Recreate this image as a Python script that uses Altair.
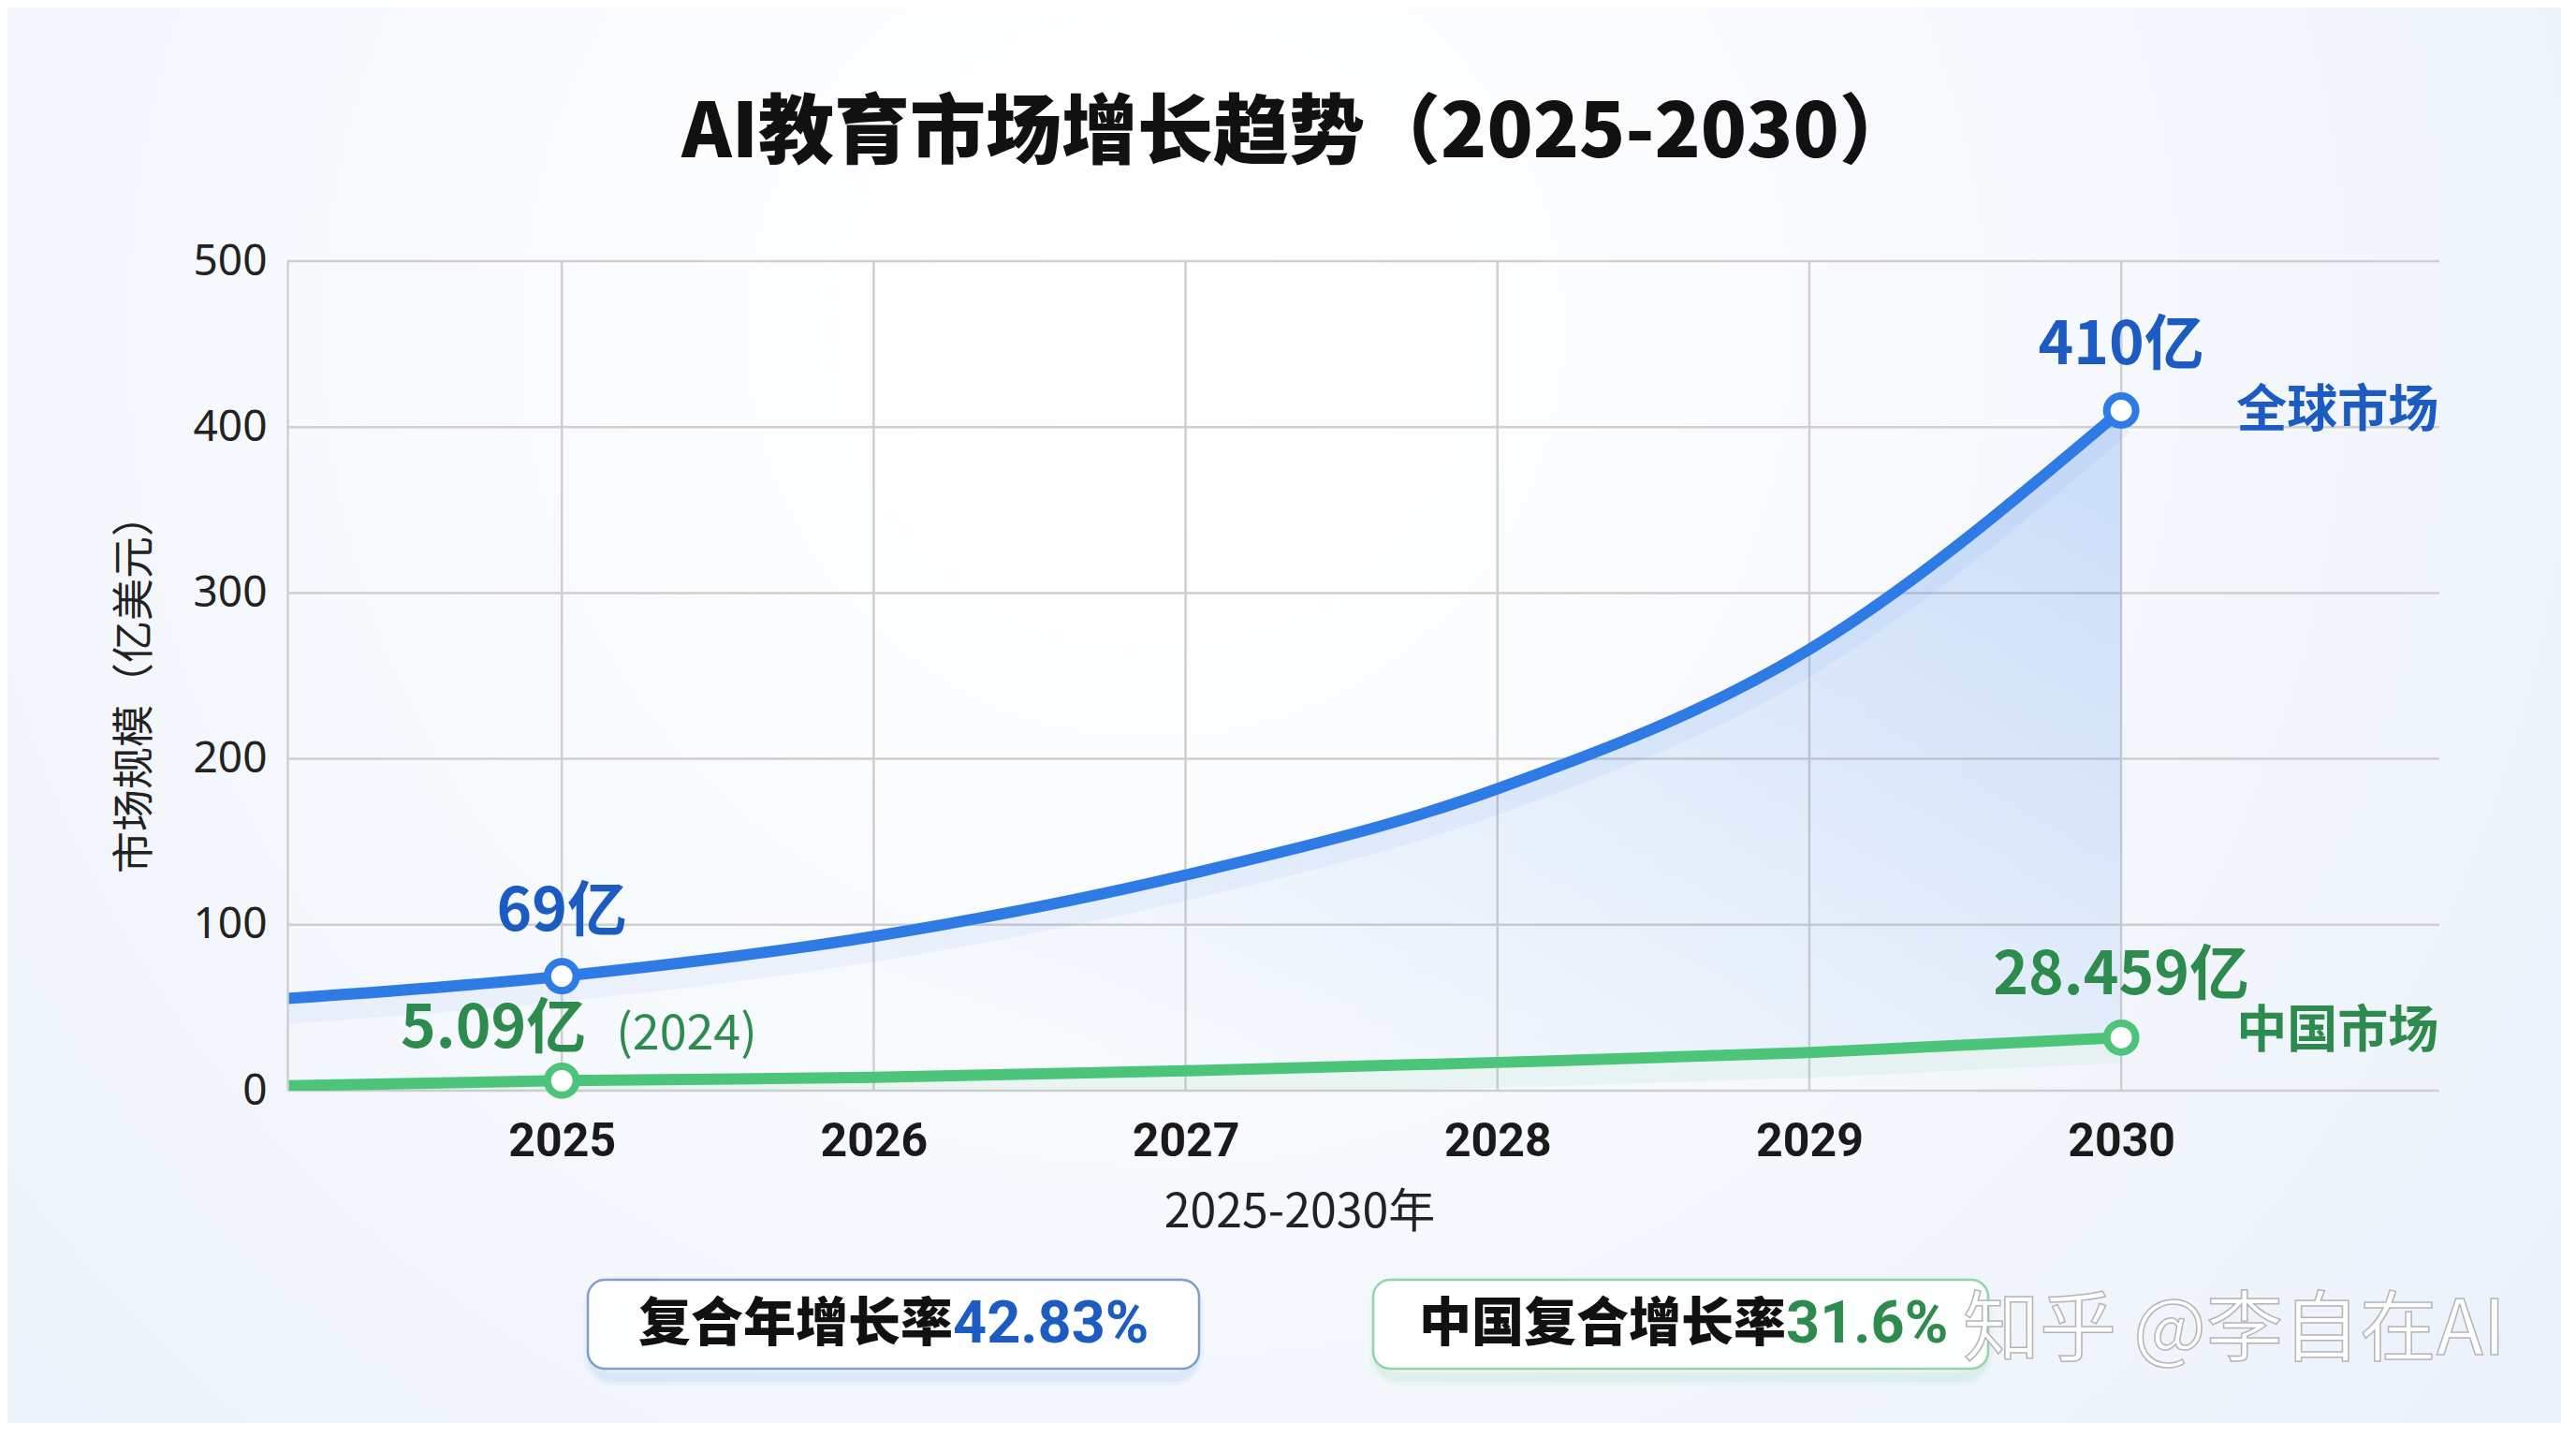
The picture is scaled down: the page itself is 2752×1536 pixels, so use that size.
import altair as alt
import pandas as pd

# values
years = [2024, 2025, 2026, 2027, 2028, 2029, 2030]
global_vals = [54, 69, 93, 130, 182, 266, 410]
china_vals = [2.5, 6, 8, 12, 17, 23, 32]
mark_years = [2025, 2030]
global_labels = ["69亿", "410亿"]
china_labels = ["5.09亿", "28.459亿"]
yticks = [0, 100, 200, 300, 400, 500]
xticks = [2025, 2026, 2027, 2028, 2029, 2030]

W, H = 2299, 886
PAD = {"left": 299, "top": 271, "right": 130, "bottom": 355}

BLUE = "#2f7be6"
BLUE_TXT = "#1c5cc2"
GREEN = "#4cc47a"
GREEN_TXT = "#2e8b4e"
GRID = "#cfcfcf"
CJK = "Noto Sans CJK SC"

df = pd.DataFrame({"year": years, "global": global_vals, "china": china_vals})
pts = df[df["year"].isin(mark_years)].copy()
pts["glabel"] = global_labels
pts["clabel"] = china_labels

xscale = alt.Scale(domain=[2024.12, 2031.02], nice=False, zero=False)
yscale = alt.Scale(domain=[0, 500], nice=False)

X = alt.X("year:Q", scale=xscale, axis=alt.Axis(
    values=xticks, format="d", grid=False, ticks=False, domain=False, zindex=1,
    labelFont="Roboto", labelFontSize=50, labelFontWeight="bold", labelColor="#1a1a1a",
    labelPadding=29, title="2025-2030年", titleFont=CJK, titleFontSize=50,
    titleFontWeight="normal", titleColor="#222222", titleX=1081, titleY=130,
    titleBaseline="middle"))
Y = alt.Y("global:Q", scale=yscale, axis=alt.Axis(
    values=yticks, grid=False, ticks=False, domain=True, domainColor=GRID,
    domainWidth=2.5, zindex=1, labelFont="Noto Sans", labelFontSize=46,
    labelColor="#222222", labelPadding=22, title="市场规模（亿美元）",
    titleFont=CJK, titleFontSize=45, titleFontWeight="normal", titleColor="#222222",
    titleX=-163, titleY=451, titleBaseline="middle"))

one = pd.DataFrame({"k": [0]})

# soft page background
bg = alt.Chart(one).mark_rect(clip=False, fill={
    "gradient": "radial", "x1": 0.45, "y1": 0.35, "r1": 0.05,
    "x2": 0.45, "y2": 0.35, "r2": 0.85,
    "stops": [{"offset": 0, "color": "#ffffff"}, {"offset": 1, "color": "#e6eef9"}],
}).encode(x=alt.value(-PAD["left"] - 8), x2=alt.value(W + PAD["right"] + 8),
          y=alt.value(-PAD["top"] - 8), y2=alt.value(H + PAD["bottom"] + 8))

title = alt.Chart(one).mark_text(
    clip=False, font=CJK, fontSize=81, fontWeight=900, color="#111111",
    align="center", baseline="alphabetic").encode(
    x=alt.value(1080), y=alt.value(-111),
    text=alt.value("AI教育市场增长趋势（2025-2030）"))

hgrid = alt.Chart(pd.DataFrame({"v": yticks})).mark_rule(
    color=GRID, strokeWidth=2.5).encode(
    y=alt.Y("v:Q", scale=yscale), x=alt.value(0), x2=alt.value(W))
vgrid = alt.Chart(pd.DataFrame({"v": xticks})).mark_rule(
    color=GRID, strokeWidth=2.5).encode(
    x=alt.X("v:Q", scale=xscale), y=alt.value(0), y2=alt.value(H))

base = alt.Chart(df)

area = base.mark_area(clip=True, interpolate="monotone", fill={
    "gradient": "linear", "x1": 0.35, "y1": 0.9, "x2": 1, "y2": 0.15,
    "stops": [{"offset": 0, "color": "rgba(47,123,230,0)"},
              {"offset": 1, "color": "rgba(47,123,230,0.2)"}],
}).encode(x=X, y=Y, y2=alt.Y2("china:Q"))

gglow = base.mark_line(clip=True, interpolate="monotone", color=BLUE,
                       strokeWidth=30, opacity=0.06, yOffset=12).encode(x=X, y=Y)
cglow = base.mark_line(clip=True, interpolate="monotone", color=GREEN,
                       strokeWidth=30, opacity=0.08, yOffset=12).encode(
    x=X, y=alt.Y("china:Q", scale=yscale))
gline = base.mark_line(clip=True, interpolate="monotone", color=BLUE,
                       strokeWidth=12).encode(x=X, y=Y)
cline = base.mark_line(clip=True, interpolate="monotone", color=GREEN,
                       strokeWidth=12).encode(x=X, y=alt.Y("china:Q", scale=yscale))

pbase = alt.Chart(pts)
gx = alt.X("year:Q", scale=xscale)
gy = alt.Y("global:Q", scale=yscale)
cy = alt.Y("china:Q", scale=yscale)

gpts = pbase.mark_point(shape="circle", filled=True, fill="white", stroke=BLUE,
                        strokeWidth=8, size=950, opacity=1).encode(x=gx, y=gy)
cpts = pbase.mark_point(shape="circle", filled=True, fill="white", stroke=GREEN,
                        strokeWidth=8, size=950, opacity=1).encode(x=gx, y=cy)

glab = pbase.mark_text(font=CJK, fontSize=64, fontWeight="bold", color=BLUE_TXT,
                       baseline="middle", dy=-68).encode(x=gx, y=gy, text="glabel:N")
gname = pbase.transform_filter("datum.year == 2030").mark_text(
    font=CJK, fontSize=54, fontWeight="bold", color=BLUE_TXT, align="left",
    baseline="middle", dx=123, dy=2).encode(x=gx, y=gy, text=alt.value("全球市场"))

clab_a = pbase.transform_filter("datum.year == 2025").mark_text(
    font=CJK, fontSize=64, fontWeight="bold", color=GREEN_TXT, align="right",
    baseline="middle", dx=26, dy=-54).encode(x=gx, y=cy, text="clabel:N")
clab_note = pbase.transform_filter("datum.year == 2025").mark_text(
    font=CJK, fontSize=52, color=GREEN_TXT, align="left",
    baseline="middle", dx=58, dy=-49).encode(x=gx, y=cy, text=alt.value("(2024)"))
clab_b = pbase.transform_filter("datum.year == 2030").mark_text(
    font=CJK, fontSize=64, fontWeight="bold", color=GREEN_TXT,
    baseline="middle", dy=-65).encode(x=gx, y=cy, text="clabel:N")
cname = pbase.transform_filter("datum.year == 2030").mark_text(
    font=CJK, fontSize=54, fontWeight="bold", color=GREEN_TXT, align="left",
    baseline="middle", dx=123, dy=-5).encode(x=gx, y=cy, text=alt.value("中国市场"))

# growth-rate boxes under the axis
boxes = []
for x0, x1, edge, glow, split, lead, rate, rcol in [
    (321, 974, "#7f9ec8", BLUE, 711, "复合年增长率", "42.83%", BLUE_TXT),
    (1160, 1817, "#94d3a6", GREEN, 1601, "中国复合增长率", "31.6%", GREEN_TXT),
]:
    for grow, op in [(18, 0.05), (10, 0.07)]:
        boxes.append(alt.Chart(one).mark_rect(
            clip=False, cornerRadius=24, fill="none", stroke=glow, strokeWidth=grow,
            opacity=op).encode(x=alt.value(x0 + 4), x2=alt.value(x1 - 4),
                               y=alt.value(1094), y2=alt.value(1192)))
    boxes.append(alt.Chart(one).mark_rect(
        clip=False, cornerRadius=18, fill="white", fillOpacity=0.92, stroke=edge,
        strokeWidth=2.5).encode(x=alt.value(x0), x2=alt.value(x1),
                                y=alt.value(1088), y2=alt.value(1183)))
    boxes.append(alt.Chart(one).mark_text(
        clip=False, font=CJK, fontSize=56, fontWeight=900, color="#111111",
        align="right", baseline="middle").encode(
        x=alt.value(split), y=alt.value(1136), text=alt.value(lead)))
    boxes.append(alt.Chart(one).mark_text(
        clip=False, font="Roboto", fontSize=63, fontWeight="bold", color=rcol,
        align="left", baseline="middle").encode(
        x=alt.value(split), y=alt.value(1136), text=alt.value(rate)))

mark = alt.Chart(one).mark_text(
    clip=False, font=CJK, fontSize=82, fontWeight="normal", fill="white",
    fillOpacity=0.9, stroke="#b5b5b5", strokeWidth=1.5, align="left",
    baseline="middle").encode(x=alt.value(1790), y=alt.value(1143),
                              text=alt.value("知乎 @李自在AI"))

chart = alt.layer(
    bg, title, hgrid, vgrid, area, gglow, cglow, gline, cline, gpts, cpts,
    glab, gname, clab_a, clab_note, clab_b, cname, *boxes, mark,
).properties(
    width=W, height=H, padding=PAD,
    autosize=alt.AutoSizeParams(type="none"),
).configure_view(stroke=None).configure(background="#f6f8fc")

chart.save("out.html", embed_options={"renderer": "svg", "actions": False})
